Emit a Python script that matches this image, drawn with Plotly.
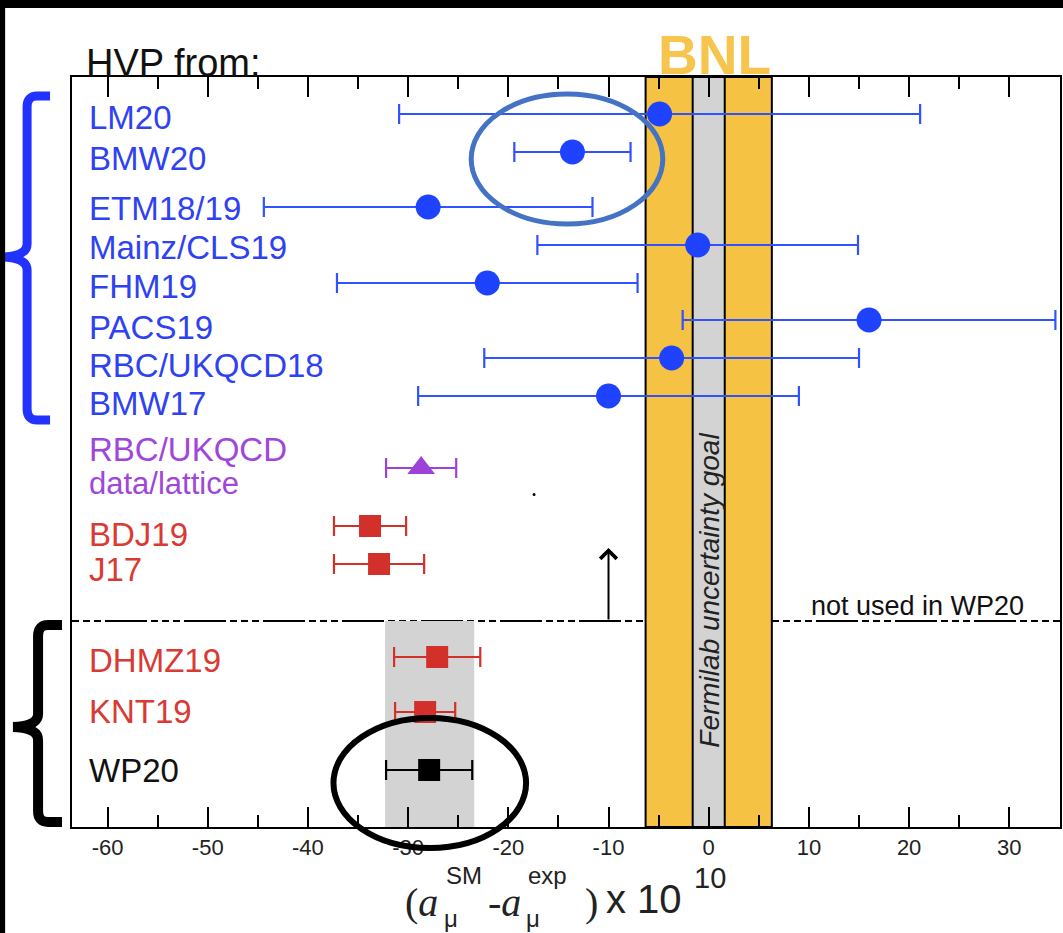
import plotly.graph_objects as go

# ---------------- data ----------------
lattice_names = ["LM20", "BMW20", "ETM18/19", "Mainz/CLS19", "FHM19", "PACS19", "RBC/UKQCD18", "BMW17"]
lattice_val = [-4.9, -13.6, -28.0, -1.1, -22.1, 16.0, -3.7, -10.0]
lattice_err = [26.0, 5.8, 16.4, 16.0, 15.0, 18.6, 18.7, 19.0]

mixed_names = ["RBC/UKQCD", "data/lattice"]
mixed_val = [-28.7]
mixed_err = [3.5]

pheno_names = ["BDJ19", "J17", "DHMZ19", "KNT19"]
pheno_val = [-33.8, -32.9, -27.1, -28.3]
pheno_err = [3.6, 4.5, 4.3, 3.0]

wp_names = ["WP20"]
wp_val = [-27.9]
wp_err = [4.3]
wp_band = [-32.3, -23.4]

bnl_half = 6.3
fnal_half = 1.6
arrow_x = -10

tick_vals = [-60, -50, -40, -30, -20, -10, 0, 10, 20, 30]
tick_text = [str(v) for v in tick_vals]

# ---------------- layout positions (axis units, top = 0) ----------------
lattice_pos = [37, 75, 130, 168, 206, 243, 281, 319]
lattice_lab = [40, 81, 131, 170, 209, 250, 288, 326]
mixed_pos = [391]
mixed_lab = [372, 406]
pheno_pos = [449, 487, 580, 635]
pheno_lab = [457, 492, 583, 634]
wp_pos = [693]
wp_lab = [693]
split_pos = 544

W, H = 1063, 933
PL, PR, PT, PB = 72, 1062, 77, 827
X_RANGE = [(PL - 710) / 10.04, (PR - 710) / 10.04]


def px(x):
    return (x - PL) / (PR - PL)


def py(y):
    return (PB - y) / (PB - PT)


def path(points):
    out = []
    for cmd, *coords in points:
        vals = []
        for i in range(0, len(coords), 2):
            vals.append(f"{px(coords[i]):.5f},{py(coords[i+1]):.5f}")
        out.append(cmd + " " + " ".join(vals))
    return " ".join(out)


FONT = "Liberation Sans, Arial, Helvetica, sans-serif"
SERIF = "Liberation Serif, Times New Roman, serif"
BLUE_M = "#1F42FF"
BLUE_T = "#2F42F2"
PURPLE = "#9C42D8"
RED = "#D2312B"
RED_T = "#D93A33"
ORANGE = "#F6C243"
GRAY = "#D3D3D3"

fig = go.Figure()

fig.add_trace(go.Scatter(
    x=lattice_val, y=lattice_pos, mode="markers",
    marker=dict(symbol="circle", size=25, color=BLUE_M),
    error_x=dict(type="data", array=lattice_err, color="#3152FF", thickness=2.2, width=10),
    hoverinfo="skip"))
fig.add_trace(go.Scatter(
    x=mixed_val, y=mixed_pos, mode="markers",
    marker=dict(symbol="triangle-up", size=24, color=PURPLE),
    error_x=dict(type="data", array=mixed_err, color=PURPLE, thickness=2.2, width=10),
    hoverinfo="skip"))
fig.add_trace(go.Scatter(
    x=pheno_val, y=pheno_pos, mode="markers",
    marker=dict(symbol="square", size=22, color=RED),
    error_x=dict(type="data", array=pheno_err, color=RED, thickness=2.2, width=10),
    hoverinfo="skip"))
fig.add_trace(go.Scatter(
    x=wp_val, y=wp_pos, mode="markers",
    marker=dict(symbol="square", size=22, color="black"),
    error_x=dict(type="data", array=wp_err, color="black", thickness=2.2, width=10),
    hoverinfo="skip"))

shapes = []
# WP20 band
shapes.append(dict(type="rect", xref="x", yref="y", x0=wp_band[0], x1=wp_band[1],
                   y0=split_pos, y1=750, fillcolor=GRAY, line=dict(width=0), layer="below"))
# split dashed line
shapes.append(dict(type="line", xref="paper", yref="y", x0=0, x1=1, y0=split_pos, y1=split_pos,
                   line=dict(color="black", width=2, dash="7px,4px,7px,4px,7px,4px,42px,4px"),
                   layer="below"))
# BNL band and Fermilab goal
shapes.append(dict(type="rect", xref="x", yref="paper", x0=-bnl_half, x1=bnl_half, y0=0, y1=1,
                   fillcolor=ORANGE, line=dict(color="black", width=2), layer="below"))
shapes.append(dict(type="rect", xref="x", yref="paper", x0=-fnal_half, x1=fnal_half, y0=0, y1=1,
                   fillcolor=GRAY, line=dict(color="black", width=2), layer="below"))
# stray dot
shapes.append(dict(type="circle", xref="paper", yref="paper",
                   x0=px(533.5), x1=px(536.5), y0=py(496), y1=py(493),
                   fillcolor="black", line=dict(width=0)))
# highlight ellipses
shapes.append(dict(type="circle", xref="paper", yref="paper",
                   x0=px(472), x1=px(664), y0=py(224), y1=py(94),
                   line=dict(color="#4472C4", width=5)))
shapes.append(dict(type="circle", xref="paper", yref="paper",
                   x0=px(334), x1=px(527), y0=py(848), y1=py(718),
                   line=dict(color="black", width=6)))
# braces
blue_brace = path([("M", 50, 96), ("L", 37, 96), ("Q", 27, 96, 27, 107), ("L", 27, 244),
                   ("Q", 27, 256, 2, 257), ("Q", 27, 258, 27, 270), ("L", 27, 409),
                   ("Q", 27, 420, 37, 420), ("L", 50, 420)])
shapes.append(dict(type="path", xref="paper", yref="paper", path=blue_brace,
                   line=dict(color="#2233FF", width=9)))
black_brace = path([("M", 62, 625), ("L", 48, 625), ("Q", 38, 625, 38, 636), ("L", 38, 714),
                    ("Q", 38, 726, 13, 727), ("Q", 38, 728, 38, 740), ("L", 38, 811),
                    ("Q", 38, 822, 48, 822), ("L", 62, 822)])
shapes.append(dict(type="path", xref="paper", yref="paper", path=black_brace,
                   line=dict(color="black", width=10)))
# outer black frame (top and left)
shapes.append(dict(type="rect", xref="paper", yref="paper", x0=px(-5), x1=px(1070), y0=py(8), y1=py(-5),
                   fillcolor="black", line=dict(width=0)))
shapes.append(dict(type="rect", xref="paper", yref="paper", x0=px(-5), x1=px(5), y0=py(940), y1=py(-5),
                   fillcolor="black", line=dict(width=0)))

annotations = []


def label(text, ypos, color, size=33):
    annotations.append(dict(text=text, xref="paper", yref="y", x=px(87), y=ypos,
                            xanchor="left", yanchor="middle", showarrow=False,
                            font=dict(family=FONT, size=size, color=color)))


for n, yl in zip(lattice_names, lattice_lab):
    label(n, yl, BLUE_T)
label(mixed_names[0], mixed_lab[0], "#A046DA")
label(mixed_names[1], mixed_lab[1], "#A046DA", size=31)
for n, yl in zip(pheno_names, pheno_lab):
    label(n, yl, RED_T)
label(wp_names[0], wp_lab[0], "#111111")

# header texts
annotations.append(dict(text="HVP from:", xref="paper", yref="paper", x=px(84), y=py(63),
                        xanchor="left", yanchor="middle", showarrow=False,
                        font=dict(family=FONT, size=38, color="#111111")))
annotations.append(dict(text="<b>BNL</b>", xref="x", yref="paper", x=0.6, y=py(55),
                        xanchor="center", yanchor="middle", showarrow=False,
                        font=dict(family=FONT, size=55, color="#F7C44E")))
annotations.append(dict(text="<i>Fermilab uncertainty goal</i>", xref="x", yref="y", x=0, y=513,
                        xanchor="center", yanchor="middle", showarrow=False, textangle=-90,
                        font=dict(family=FONT, size=28, color="#222222")))
annotations.append(dict(text="not used in WP20", xref="x", yref="y", x=20.8, y=529,
                        xanchor="center", yanchor="middle", showarrow=False,
                        font=dict(family=FONT, size=27, color="#111111")))
# arrow
annotations.append(dict(text="", xref="x", yref="y", x=arrow_x, y=471, axref="x", ayref="y",
                        ax=arrow_x, ay=split_pos, showarrow=True, arrowhead=4, arrowsize=1.6,
                        arrowwidth=2, arrowcolor="black"))


# axis title pieces
def tpiece(text, xl, yc, size, family, color="#222222"):
    annotations.append(dict(text=text, xref="paper", yref="paper", x=px(xl), y=py(yc),
                            xanchor="left", yanchor="middle", showarrow=False, borderpad=0,
                            font=dict(family=family, size=size, color=color)))


tpiece("(<i>a</i>", 405, 902, 40, SERIF)
tpiece("SM", 446, 876, 24, FONT)
tpiece("μ", 444, 918, 24, FONT)
tpiece("-<i>a</i>", 488, 902, 40, SERIF)
tpiece("exp", 528, 876, 24, FONT)
tpiece("μ", 526, 918, 24, FONT)
tpiece(")", 585, 902, 40, SERIF)
tpiece("x 10", 606, 899, 40, FONT)
tpiece("10", 694, 878, 29, FONT)

fig.update_layout(
    width=W, height=H,
    margin=dict(l=PL, r=W - PR, t=PT, b=H - PB),
    paper_bgcolor="white", plot_bgcolor="white",
    showlegend=False,
    shapes=shapes, annotations=annotations,
    xaxis=dict(range=X_RANGE, tickmode="array", tickvals=tick_vals, ticktext=tick_text,
               ticks="inside", ticklen=20, tickwidth=2, tickcolor="black",
               minor=dict(ticks="inside", ticklen=12, tickwidth=2, tickcolor="black", dtick=5, tick0=0),
               showline=True, linecolor="black", linewidth=2, mirror="ticks",
               showgrid=False, zeroline=False,
               tickfont=dict(family=FONT, size=22, color="#222222")),
    yaxis=dict(range=[750, 0], showline=True, linecolor="black", linewidth=2, mirror=True,
               showticklabels=False, ticks="", showgrid=False, zeroline=False),
)

fig.write_html("out.html", config={"displayModeBar": False},
               post_script="document.body.style.margin='0px';document.body.style.overflow='hidden';")
